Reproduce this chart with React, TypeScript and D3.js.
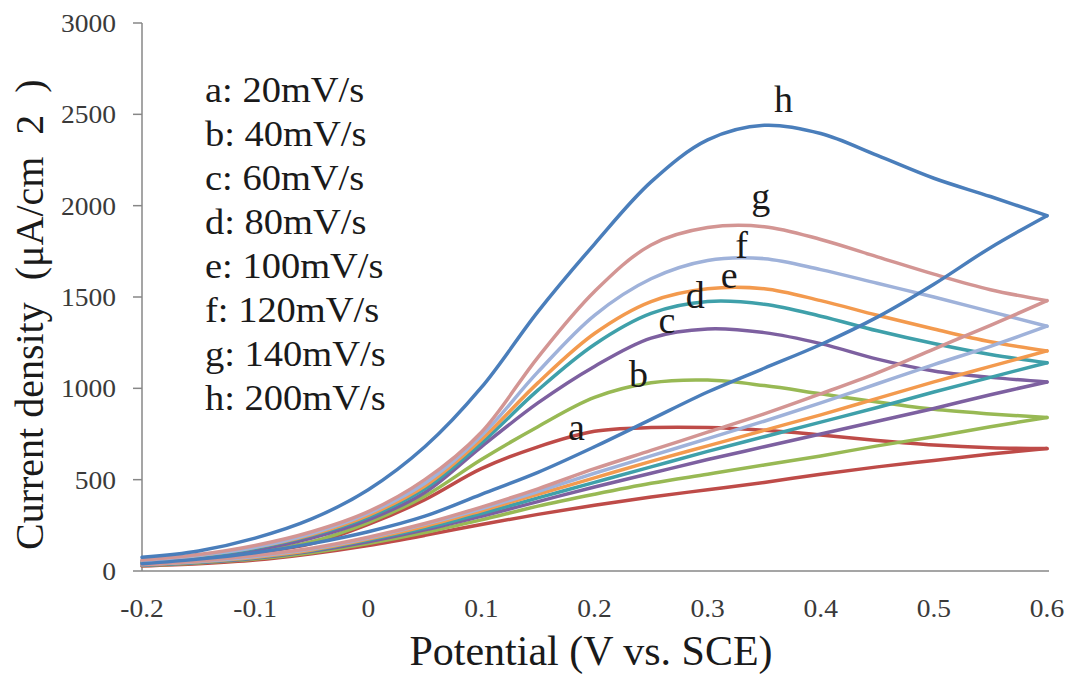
import React, { useEffect, useRef } from 'react';
import * as d3 from 'd3';

// potential (V vs. SCE), sampled every 0.05 V
const potential = [-0.2, -0.15, -0.1, -0.05, 0, 0.05, 0.1, 0.15, 0.2, 0.25, 0.3, 0.35, 0.4, 0.45, 0.5, 0.55, 0.6];

// current density (uA/cm2) on the anodic (forward) and reverse sweeps
const fwdA = [40, 65, 100, 150, 255, 390, 560, 680, 765, 785, 785, 770, 745, 715, 690, 675, 670];
const revA = [28, 40, 60, 95, 140, 195, 255, 310, 360, 405, 445, 485, 530, 570, 605, 640, 670];
const fwdB = [45, 70, 105, 160, 265, 410, 610, 790, 950, 1030, 1045, 1015, 970, 925, 885, 860, 840];
const revB = [30, 44, 65, 100, 150, 210, 280, 355, 420, 480, 530, 580, 630, 685, 735, 790, 840];
const fwdC = [50, 75, 115, 180, 280, 430, 680, 920, 1120, 1275, 1325, 1305, 1245, 1160, 1095, 1060, 1035];
const revC = [32, 46, 70, 108, 160, 225, 300, 380, 460, 535, 610, 680, 750, 820, 890, 965, 1035];
const fwdD = [50, 80, 125, 195, 295, 450, 700, 990, 1240, 1410, 1475, 1460, 1395, 1315, 1245, 1185, 1140];
const revD = [33, 48, 73, 112, 170, 235, 315, 400, 485, 570, 655, 735, 815, 895, 980, 1060, 1140];
const fwdE = [55, 85, 130, 200, 305, 465, 720, 1030, 1300, 1475, 1545, 1545, 1480, 1400, 1325, 1255, 1205];
const revE = [35, 50, 75, 115, 175, 245, 330, 420, 510, 600, 685, 770, 855, 945, 1035, 1120, 1205];
const fwdF = [55, 85, 130, 205, 315, 480, 740, 1090, 1400, 1600, 1700, 1710, 1650, 1575, 1500, 1420, 1340];
const revF = [35, 52, 80, 120, 180, 255, 340, 435, 535, 630, 725, 820, 920, 1025, 1130, 1230, 1340];
const fwdG = [60, 90, 140, 215, 325, 500, 760, 1170, 1530, 1785, 1880, 1885, 1815, 1720, 1625, 1540, 1480];
const revG = [35, 55, 85, 125, 185, 260, 350, 450, 560, 660, 760, 860, 970, 1085, 1215, 1345, 1480];
const fwdH = [75, 110, 180, 285, 445, 680, 1005, 1420, 1790, 2130, 2360, 2440, 2395, 2275, 2150, 2050, 1945];
const revH = [40, 65, 100, 150, 215, 300, 420, 540, 680, 830, 980, 1110, 1240, 1390, 1570, 1770, 1945];

const legendItems = ['a: 20mV/s', 'b: 40mV/s', 'c: 60mV/s', 'd: 80mV/s', 'e: 100mV/s', 'f: 120mV/s', 'g: 140mV/s', 'h: 200mV/s'];

// curve letters, placed in data units (potential, current density)
const curveLabels = [
    { text: 'a', x: 0.184, y: 717 },
    { text: 'b', x: 0.239, y: 1007 },
    { text: 'c', x: 0.264, y: 1303 },
    { text: 'd', x: 0.289, y: 1440 },
    { text: 'e', x: 0.319, y: 1549 },
    { text: 'f', x: 0.330, y: 1713 },
    { text: 'g', x: 0.347, y: 1982 },
    { text: 'h', x: 0.367, y: 2513 },
];

const xTicks = [-0.2, -0.1, 0, 0.1, 0.2, 0.3, 0.4, 0.5, 0.6];
const yTicks = [0, 500, 1000, 1500, 2000, 2500, 3000];

const series = [
    { key: 'a', color: '#be4b48', fwd: fwdA, rev: revA },
    { key: 'b', color: '#98b954', fwd: fwdB, rev: revB },
    { key: 'c', color: '#7d60a0', fwd: fwdC, rev: revC },
    { key: 'd', color: '#3fa0aa', fwd: fwdD, rev: revD },
    { key: 'e', color: '#f39a4e', fwd: fwdE, rev: revE },
    { key: 'f', color: '#9fb2da', fwd: fwdF, rev: revF },
    { key: 'g', color: '#d39593', fwd: fwdG, rev: revG },
    { key: 'h', color: '#4a7ebb', fwd: fwdH, rev: revH },
];

const W = 1069;
const H = 677;
const FONT = "'Liberation Serif', 'Times New Roman', Times, 'DejaVu Serif', serif";

const CVChart = () => {
    const svgRef = useRef<SVGSVGElement>(null);

    useEffect(() => {
        const svg = d3.select(svgRef.current);
        svg.selectAll('*').remove();

        const x = d3.scaleLinear().domain([-0.2, 0.6]).range([142, 1047]);
        const y = d3.scaleLinear().domain([0, 3000]).range([571, 23]);

        svg.append('rect').attr('width', W).attr('height', H).attr('fill', '#fff');

        // axes
        const axisColor = '#878787';
        svg.append('line')
            .attr('x1', x(-0.2)).attr('x2', x(-0.2))
            .attr('y1', y(3000)).attr('y2', y(0))
            .style('stroke', axisColor).style('stroke-width', 1.5);
        svg.append('line')
            .attr('x1', x(-0.2)).attr('x2', x(0.6) + 2)
            .attr('y1', y(0)).attr('y2', y(0))
            .style('stroke', axisColor).style('stroke-width', 1.5);

        yTicks.forEach(t => {
            svg.append('line')
                .attr('x1', x(-0.2) - 9).attr('x2', x(-0.2))
                .attr('y1', y(t)).attr('y2', y(t))
                .style('stroke', axisColor).style('stroke-width', 1.5);
            svg.append('text')
                .attr('transform', `translate(${x(-0.2) - 26},${y(t) + 9}) scale(1.1,1)`)
                .attr('text-anchor', 'end')
                .attr('font-family', FONT)
                .attr('font-size', 25)
                .attr('fill', '#3a3a3a')
                .text(t);
        });

        xTicks.forEach(t => {
            svg.append('text')
                .attr('transform', `translate(${x(t)},617) scale(1.1,1)`)
                .attr('text-anchor', 'middle')
                .attr('font-family', FONT)
                .attr('font-size', 25)
                .attr('fill', '#3a3a3a')
                .text(t === 0 ? '0' : String(t));
        });

        // axis titles
        svg.append('text')
            .attr('x', 591).attr('y', 665)
            .attr('text-anchor', 'middle')
            .attr('font-family', FONT)
            .attr('font-size', 42)
            .attr('fill', '#1a1a1a')
            .text('Potential (V vs. SCE)');

        const yTitle = svg.append('text')
            .attr('transform', 'translate(43,550) rotate(-90)')
            .attr('font-family', FONT)
            .attr('font-size', 40)
            .attr('fill', '#1a1a1a');
        yTitle.append('tspan').text('Current density');
        yTitle.append('tspan').attr('dx', 22).text('(μA/cm');
        yTitle.append('tspan').attr('dx', 22).text('2');
        yTitle.append('tspan').attr('dx', 22).text(')');

        // curves
        const line = d3.line<number>()
            .x((d, i) => x(potential[i]))
            .y(d => y(d))
            .curve(d3.curveCatmullRom.alpha(0.5));

        series.forEach(s => {
            [s.fwd, s.rev].forEach(vals => {
                svg.append('path')
                    .attr('d', line(vals))
                    .style('fill', 'none')
                    .style('stroke', s.color)
                    .style('stroke-width', 3.5)
                    .style('stroke-linecap', 'round');
            });
        });

        // curve letters
        curveLabels.forEach(l => {
            svg.append('text')
                .attr('x', x(l.x)).attr('y', y(l.y))
                .attr('text-anchor', 'middle')
                .attr('font-family', FONT)
                .attr('font-size', 38)
                .attr('fill', '#1a1a1a')
                .text(l.text);
        });

        // legend
        legendItems.forEach((item, i) => {
            svg.append('text')
                .attr('transform', `translate(205,${102 + i * 44}) scale(1.1,1)`)
                .attr('font-family', FONT)
                .attr('font-size', 35)
                .attr('fill', '#1a1a1a')
                .text(item);
        });
    }, []);

    return <svg ref={svgRef} width={W} height={H} style={{ display: 'block' }}></svg>;
};

export default function App() {
    return (
        <div style={{ position: 'absolute', left: 0, top: 0 }}>
            <CVChart />
        </div>
    );
}
